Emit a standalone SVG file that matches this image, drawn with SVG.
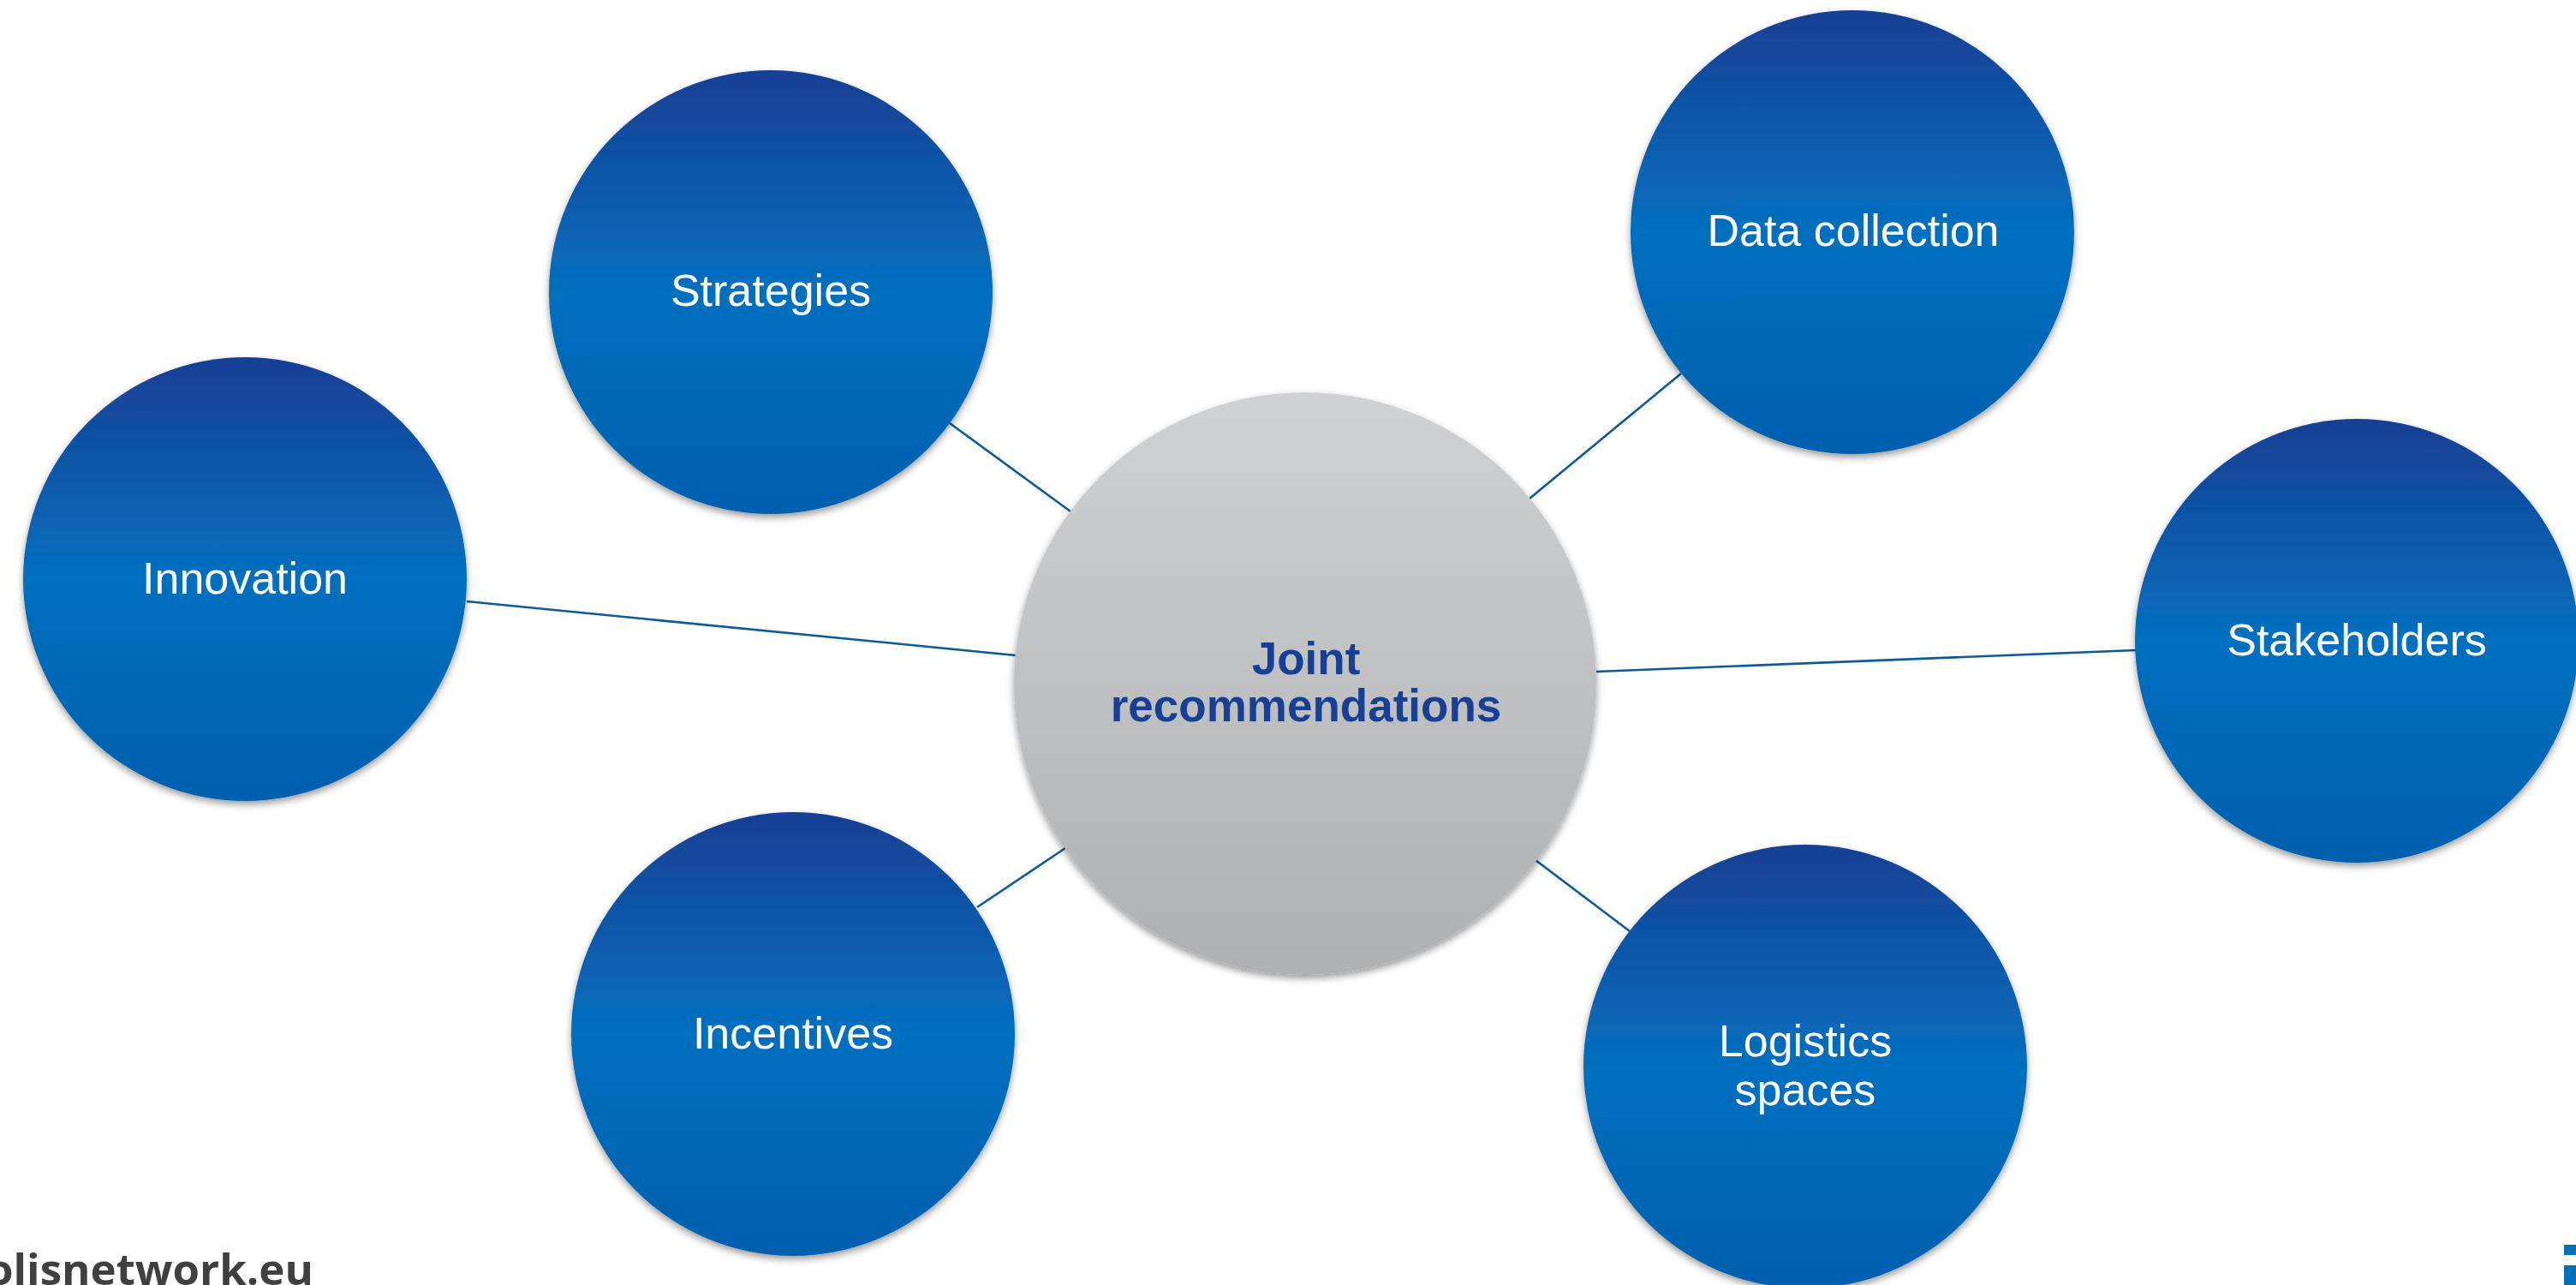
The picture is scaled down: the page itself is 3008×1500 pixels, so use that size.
<svg xmlns="http://www.w3.org/2000/svg" width="3008" height="1500" viewBox="0 0 3008 1500">
  <defs>
    <linearGradient id="blueGrad" x1="0" y1="0" x2="0" y2="1">
      <stop offset="0" stop-color="#173f93"/>
      <stop offset="0.5" stop-color="#046fbf"/>
      <stop offset="1" stop-color="#0560ae"/>
    </linearGradient>
    <linearGradient id="grayGrad" x1="0" y1="0" x2="0" y2="1">
      <stop offset="0" stop-color="#d0d1d3"/>
      <stop offset="1" stop-color="#afb0b2"/>
    </linearGradient>
    <filter id="shadow" x="-10%" y="-10%" width="120%" height="125%">
      <feDropShadow dx="0" dy="4" stdDeviation="4" flood-color="#000" flood-opacity="0.4"/>
    </filter>
  </defs>
  <style>
    .node { fill: url(#blueGrad); filter: url(#shadow); }
    .hub { fill: url(#grayGrad); filter: url(#shadow); }
    .lbl { font-family: "Liberation Sans", Arial, sans-serif; font-size: 52px; fill: #ffffff; text-anchor: middle; }
    .hubLbl { font-family: "Liberation Sans", Arial, sans-serif; font-size: 53px; font-weight: bold; fill: #173f94; text-anchor: middle; }
    .conn { stroke: #0d5a9a; stroke-width: 2.6; fill: none; }
    .url { font-family: "Open Sans", "DejaVu Sans", sans-serif; font-size: 51px; font-weight: bold; fill: #404040; }
    .logo { fill: #0070b8; }
  </style>
  <rect width="3008" height="1500" fill="#ffffff"/>

  <g id="connectors">
    <line class="conn" x1="1109" y1="494" x2="1250" y2="597"/>
    <line class="conn" x1="1963" y1="436" x2="1786" y2="582"/>
    <line class="conn" x1="545" y1="702" x2="1186" y2="765"/>
    <line class="conn" x1="1864" y1="784" x2="2494" y2="759"/>
    <line class="conn" x1="1141" y1="1059" x2="1244" y2="990"/>
    <line class="conn" x1="1793" y1="1004" x2="1903" y2="1087"/>
  </g>

  <g id="node-strategies">
    <circle class="node" cx="900" cy="341" r="259"/>
    <text class="lbl" x="900" y="357">Strategies</text>
  </g>
  <g id="node-data-collection">
    <circle class="node" cx="2163" cy="271" r="259"/>
    <text class="lbl" x="2164" y="287">Data collection</text>
  </g>
  <g id="node-innovation">
    <circle class="node" cx="286" cy="676" r="259"/>
    <text class="lbl" x="286" y="693">Innovation</text>
  </g>
  <g id="node-stakeholders">
    <circle class="node" cx="2752" cy="748" r="259"/>
    <text class="lbl" x="2752" y="765">Stakeholders</text>
  </g>
  <g id="node-incentives">
    <circle class="node" cx="926" cy="1207" r="259"/>
    <text class="lbl" x="926" y="1224">Incentives</text>
  </g>
  <g id="node-logistics-spaces">
    <circle class="node" cx="2108" cy="1245" r="259"/>
    <text class="lbl" x="2108" y="1233">Logistics</text>
    <text class="lbl" x="2108" y="1290">spaces</text>
  </g>
  <g id="node-joint-recommendations">
    <circle class="hub" cx="1524" cy="798" r="340"/>
    <text class="hubLbl" x="1525" y="787">Joint</text>
    <text class="hubLbl" x="1525" y="842">recommendations</text>
  </g>

  <g id="footer">
    <text class="url" x="366" y="1500" text-anchor="end">olisnetwork.eu</text>
    <rect class="logo" x="2994" y="1453" width="14" height="12"/>
    <rect class="logo" x="2994" y="1477" width="14" height="23"/>
  </g>
</svg>
